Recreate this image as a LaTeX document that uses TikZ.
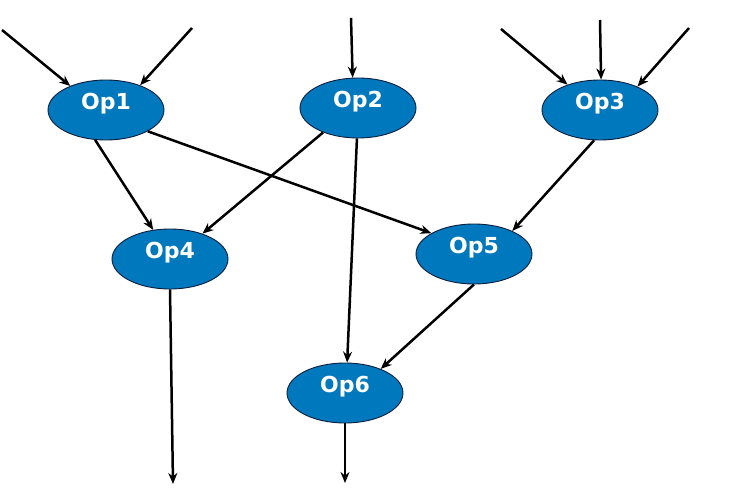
\documentclass[tikz,border=0pt]{standalone}
\usepackage{fontspec}
\setmainfont{DejaVu Sans}
\usetikzlibrary{shapes.geometric,arrows.meta}
\definecolor{opfill}{RGB}{0,120,190}
\definecolor{opline}{RGB}{10,30,60}
\begin{document}
\begin{tikzpicture}[x=1pt,y=-1pt,
  op/.style={ellipse,draw=opline,line width=0.9pt,fill=opfill,
    minimum width=116pt,minimum height=60pt,inner sep=0pt,
    text=white,font=\bfseries\fontsize{22}{22}\selectfont,
    text height=15pt,text depth=16pt},
  flow/.style={line width=2.5pt,-{Stealth[length=11pt,width=9pt]}}]
\useasboundingbox (0,0) rectangle (736,494);
\node[op] (op1) at (106,110) {Op1};
\node[op] (op2) at (358,108) {Op2};
\node[op] (op3) at (600,110) {Op3};
\node[op] (op4) at (170,259) {Op4};
\node[op] (op5) at (474,254) {Op5};
\node[op] (op6) at (345,393) {Op6};
% free ends of the inputs and outputs
\coordinate (i1a) at (2,30);
\coordinate (i1b) at (192,28);
\coordinate (i2) at (351,18);
\coordinate (i3a) at (501,29);
\coordinate (i3b) at (600,20);
\coordinate (i3c) at (689,28);
\coordinate (o4) at (173,484);
\coordinate (o6) at (345,483);
% inputs
\draw[flow] (i1a) -- (op1.146);
\draw[flow] (i1b) -- (op1.36);
\draw[flow] (i2) -- (op2.100);
\draw[flow] (i3a) -- (op3.142);
\draw[flow] (i3b) -- (op3.88);
\draw[flow] (i3c) -- (op3.32);
% internal edges
\draw[flow] (op1.250) -- (op4.120);
\draw[flow] (op1.333) -- (op5.154);
\draw[flow] (op2.215) -- (op4.38);
\draw[flow] (op2.268) -- (op6.86);
\draw[flow] (op3.259) -- (op5.31);
\draw[flow] (op5.270) -- (op6.34);
% outputs
\draw[flow] (op4.270) -- (o4);
\draw[flow] (op6.270) -- (o6);
\end{tikzpicture}
\end{document}
